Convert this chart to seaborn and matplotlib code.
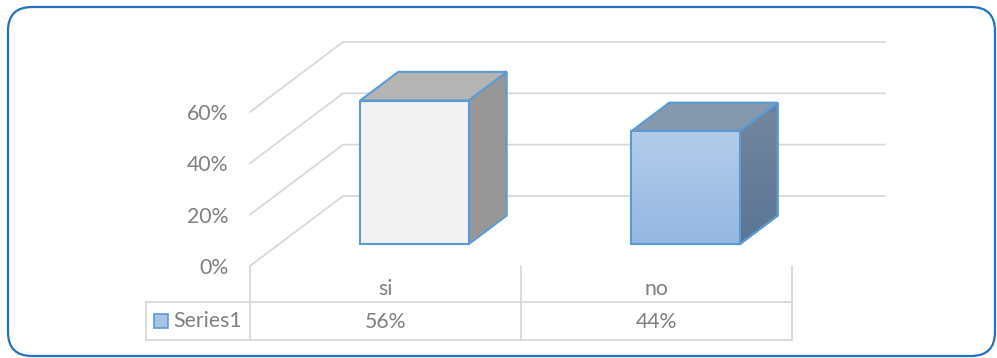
import numpy as np
import matplotlib
matplotlib.use("Agg")
import matplotlib.pyplot as plt
import matplotlib.transforms as mtransforms
from matplotlib.patches import Polygon, FancyBboxPatch, Rectangle
from matplotlib.lines import Line2D
import seaborn as sns

# ---- data -------------------------------------------------------------
categories = ["si", "no"]
values = [56, 44]              # percent
series_name = "Series1"
y_ticks = [0, 20, 40, 60]

# ---- styling ----------------------------------------------------------
W, H, DPI = 997, 358, 100
TEXT = "#7f7f7f"
GRID = "#d9d9d9"
EDGE = "#5b9bd5"
FRAME = "#2372c0"
FS = 15.3

front_colors = ["#f2f2f2", "#a7c4e7"]
top_colors = ["#b4b4b4", "#8598ae"]
side_colors = ["#979797", "#68809d"]
front_gradients = [None, ("#b3ccea", "#95b7e2")]   # top -> bottom
side_gradients = [None, ("#74879f", "#5a7594")]    # top -> bottom

# oblique depth of the floor (display pixels) and bar slab position in it
DEPTH_DX, DEPTH_DY = 93.0, 70.0
BAR_FRONT, BAR_BACK = 0.31, 0.72

sns.set_theme(style="white")
plt.rcParams["font.family"] = ["Lato", "DejaVu Sans"]

fig = plt.figure(figsize=(W / DPI, H / DPI), dpi=DPI)
fig.patch.set_facecolor("white")

# axes = front plane of the floor, value axis on its left edge
ax = fig.add_axes([250 / W, (H - 266) / H, 542 / W, 154 / H])
ax.set_facecolor("none")

df = {"cat": categories, "val": values}
sns.barplot(data=df, x="cat", y="val", hue="cat", palette=front_colors,
            width=0.4, legend=False, ax=ax, linewidth=1.5, edgecolor=EDGE,
            saturation=1, zorder=3)

x_lo, x_hi = -0.5, len(categories) - 0.5
ax.set_xlim(x_lo, x_hi)
ax.set_ylim(0, y_ticks[-1])
ax.set_xticks([])
ax.set_yticks(y_ticks)
ax.set_yticklabels([f"{v}%" for v in y_ticks], color=TEXT, fontsize=FS)
ax.tick_params(axis="y", length=0, pad=15.5)
ax.set_xlabel("")
ax.set_ylabel("")
for s in ax.spines.values():
    s.set_visible(False)

ident = mtransforms.IdentityTransform()


def to_px(x, y, depth=0.0):
    px, py = ax.transData.transform((x, y))
    return px + depth * DEPTH_DX, py + depth * DEPTH_DY


def depth_transform(depth):
    return ax.transData + mtransforms.ScaledTranslation(
        depth * DEPTH_DX / DPI, depth * DEPTH_DY / DPI, fig.dpi_scale_trans)


def add_line(points, **kw):
    xs, ys = zip(*points)
    ln = Line2D(xs, ys, transform=ident, color=GRID, lw=1.3,
                clip_on=False, **kw)
    ax.add_line(ln)


def gradient_fill(clip_patch, points, colors, zorder):
    """Vertical gradient (top colour -> bottom colour) clipped to a face."""
    xs, ys = zip(*points)
    c_top = np.array(matplotlib.colors.to_rgb(colors[0]))
    c_bot = np.array(matplotlib.colors.to_rgb(colors[1]))
    t = np.linspace(0, 1, 64)[:, None]
    img = (c_top * (1 - t) + c_bot * t)[:, None, :]
    im = ax.imshow(img, extent=[min(xs), max(xs), min(ys), max(ys)],
                   origin="upper", transform=ident, aspect="auto",
                   zorder=zorder, interpolation="bilinear")
    im.set_clip_path(clip_patch)
    return im


# ---- walls: gridlines on the back wall and the left wall ---------------
for v in y_ticks:
    add_line([to_px(x_lo, v, 0), to_px(x_lo, v, 1), to_px(x_hi, v, 1)],
             zorder=0.5)

# ---- 3-D bars ------------------------------------------------------------
bars = list(ax.patches)
for i, bar in enumerate(bars):
    x0, w, h = bar.get_x(), bar.get_width(), bar.get_height()
    bar.set_transform(depth_transform(BAR_FRONT))
    bar.set_clip_on(False)

    side = [to_px(x0 + w, 0, BAR_FRONT), to_px(x0 + w, h, BAR_FRONT),
            to_px(x0 + w, h, BAR_BACK), to_px(x0 + w, 0, BAR_BACK)]
    top = [to_px(x0, h, BAR_FRONT), to_px(x0 + w, h, BAR_FRONT),
           to_px(x0 + w, h, BAR_BACK), to_px(x0, h, BAR_BACK)]
    front = [to_px(x0, 0, BAR_FRONT), to_px(x0 + w, h, BAR_FRONT)]

    side_p = Polygon(side, closed=True, transform=ident,
                     facecolor=side_colors[i], edgecolor=EDGE, lw=1.5,
                     zorder=2, clip_on=False, joinstyle="miter")
    top_p = Polygon(top, closed=True, transform=ident,
                    facecolor=top_colors[i], edgecolor=EDGE, lw=1.5,
                    zorder=2, clip_on=False, joinstyle="miter")
    ax.add_patch(side_p)
    ax.add_patch(top_p)

    if side_gradients[i] is not None:
        gradient_fill(side_p, side, side_gradients[i], 2.2)
        ax.add_patch(Polygon(side, closed=True, transform=ident,
                             facecolor="none", edgecolor=EDGE, lw=1.5,
                             zorder=2.4, clip_on=False, joinstyle="miter"))

    if front_gradients[i] is not None:
        gradient_fill(bar, front, front_gradients[i], 3.2)
        ax.add_patch(Rectangle((x0, 0), w, h,
                               transform=depth_transform(BAR_FRONT),
                               facecolor="none", edgecolor=EDGE, lw=1.5,
                               zorder=3.5, clip_on=False))

ax.set_xlim(x_lo, x_hi)
ax.set_ylim(0, y_ticks[-1])

# ---- data table under the floor -------------------------------------------
ox, oy = to_px(x_lo, 0)
row1 = oy - 36        # bottom of the category row
row2 = oy - 74        # bottom of the value row
left = ox - 104       # left edge of the legend cell

for k in range(len(categories) + 1):
    xk, _ = to_px(x_lo + k, 0)
    add_line([(xk, oy), (xk, row2)], zorder=1)
xr, _ = to_px(x_hi, 0)
add_line([(left, row1), (xr, row1)], zorder=1)
add_line([(left, row2), (xr, row2)], zorder=1)
add_line([(left, row1), (left, row2)], zorder=1)

for i, (c, v) in enumerate(zip(categories, values)):
    cx, _ = to_px(i, 0)
    ax.text(cx, oy - 29, c, transform=ident, ha="center", va="baseline",
            color=TEXT, fontsize=FS, clip_on=False)
    ax.text(cx, oy - 62, f"{v}%", transform=ident, ha="center",
            va="baseline", color=TEXT, fontsize=FS, clip_on=False)

# legend key inside the table
key = Rectangle((left + 8, oy - 62), 14, 14, transform=ident,
                facecolor="#a7c4e7", edgecolor=EDGE, lw=1.2, clip_on=False,
                zorder=3)
ax.add_patch(key)
ax.text(left + 27, oy - 61, series_name, transform=ident, ha="left",
        va="baseline", color=TEXT, fontsize=FS, clip_on=False)

# ---- rounded chart border -----------------------------------------------------
frame = FancyBboxPatch((8 / W, 2 / H), 987 / W, 349 / H,
                       boxstyle=f"round,pad=0,rounding_size={24 / W}",
                       transform=fig.transFigure, facecolor="none",
                       edgecolor=FRAME, lw=1.6, mutation_aspect=W / H)
fig.add_artist(frame)

fig.savefig("out.png", dpi=DPI, facecolor="white")
